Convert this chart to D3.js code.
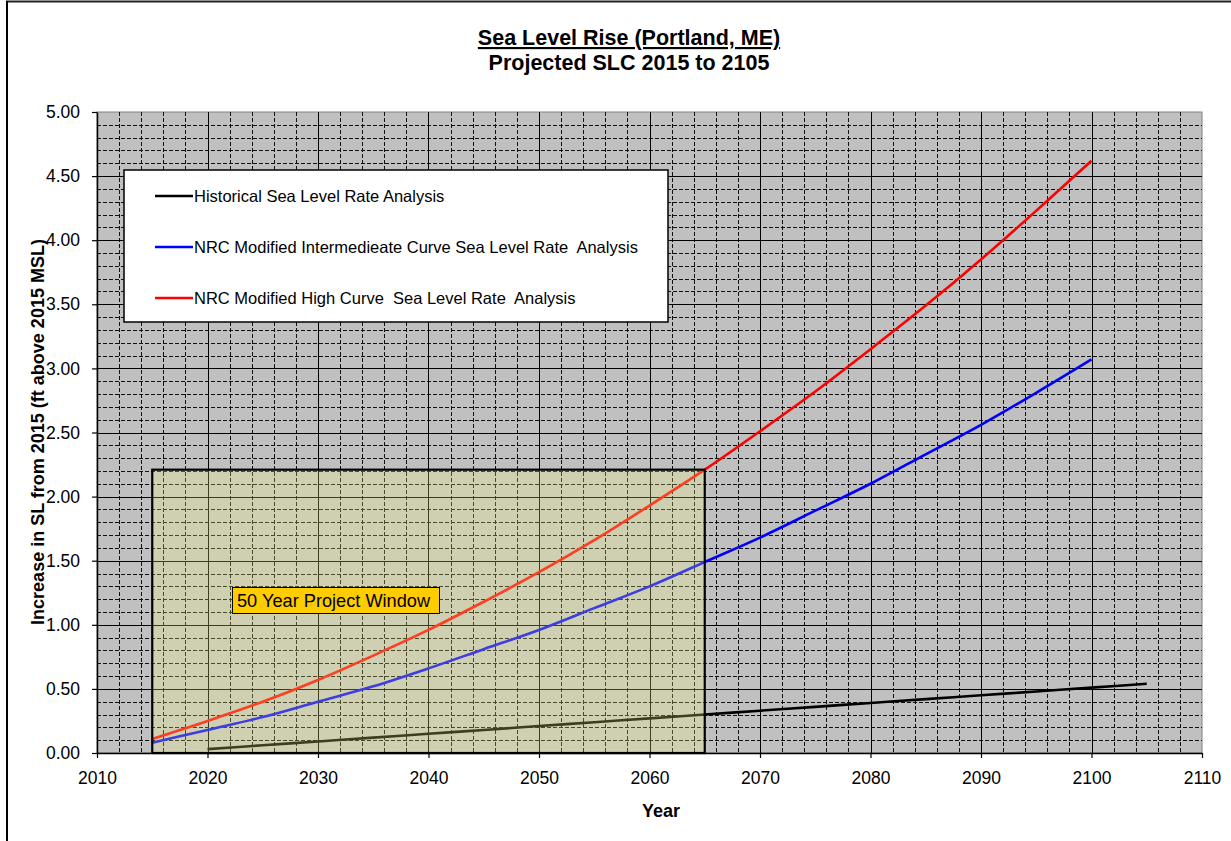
<!DOCTYPE html>
<html>
<head>
<meta charset="utf-8">
<script src="https://cdn.jsdelivr.net/npm/d3@7"></script>
<style>
  html, body { margin: 0; padding: 0; background: #fff; }
  svg { display: block; font-family: "Liberation Sans", Arial, sans-serif; }
</style>
</head>
<body>
<svg id="chart" width="1231" height="841"></svg>
<script>
// Projected sea level change, Portland ME (ft above 2015 MSL)
const histYears = [2020, 2025, 2030, 2035, 2040, 2045, 2050, 2055, 2060, 2065, 2070, 2075, 2080, 2085, 2090, 2095, 2100, 2105];
const histValues = [0.03, 0.06, 0.09, 0.12, 0.15, 0.18, 0.21, 0.24, 0.27, 0.30, 0.33, 0.36, 0.39, 0.42, 0.45, 0.48, 0.51, 0.54];

const nrcYears = [2015, 2020, 2025, 2030, 2035, 2040, 2045, 2050, 2055, 2060, 2065, 2070, 2075, 2080, 2085, 2090, 2095, 2100];
const intermediateValues = [0.08, 0.18, 0.28, 0.40, 0.52, 0.66, 0.81, 0.96, 1.13, 1.30, 1.49, 1.68, 1.89, 2.10, 2.33, 2.56, 2.81, 3.07];
const highValues = [0.11, 0.25, 0.40, 0.57, 0.76, 0.96, 1.18, 1.41, 1.66, 1.93, 2.21, 2.51, 2.82, 3.15, 3.49, 3.85, 4.23, 4.62];

const xTicks = [2010, 2020, 2030, 2040, 2050, 2060, 2070, 2080, 2090, 2100, 2110];
const yTicks = [0, 0.5, 1, 1.5, 2, 2.5, 3, 3.5, 4, 4.5, 5];

const seriesNames = [
  "Historical Sea Level Rate Analysis",
  "NRC Modified Intermedieate Curve Sea Level Rate  Analysis",
  "NRC Modified High Curve  Sea Level Rate  Analysis"
];
const seriesColors = ["#000000", "#0000ff", "#ff0000"];

// project window: 2015 to 2065, up to the high curve's 2065 value
const windowStart = 2015, windowEnd = 2065;
const windowTop = highValues[nrcYears.indexOf(windowEnd)];
const windowLabel = "50 Year Project Window";

const svg = d3.select("#chart");
const plot = { left: 97, right: 1202, top: 112, bottom: 753 };

const x = d3.scaleLinear().domain([2010, 2110]).range([plot.left, plot.right]);
const y = d3.scaleLinear().domain([0, 5]).range([plot.bottom, plot.top]);

// outer frame
svg.append("line").attr("x1", 6).attr("x2", 1231).attr("y1", 1.5).attr("y2", 1.5)
  .attr("stroke", "#222").attr("stroke-width", 2);
svg.append("line").attr("x1", 7).attr("x2", 7).attr("y1", 1).attr("y2", 841)
  .attr("stroke", "#000").attr("stroke-width", 2);

// plot background
svg.append("rect")
  .attr("x", plot.left).attr("y", plot.top)
  .attr("width", plot.right - plot.left).attr("height", plot.bottom - plot.top)
  .attr("fill", "#c0c0c0").attr("stroke", "#808080").attr("stroke-width", 1);

// minor grid (dashed)
const grid = svg.append("g");
const minorX = d3.range(2012, 2110, 2).filter(v => v % 10 !== 0);
const minorY = d3.range(1, 50).map(v => v / 10).filter(v => Math.round(v * 10) % 5 !== 0);
grid.selectAll("line.mx").data(minorX).join("line")
  .attr("x1", d => Math.round(x(d)) + 0.5).attr("x2", d => Math.round(x(d)) + 0.5)
  .attr("y1", plot.top).attr("y2", plot.bottom)
  .attr("stroke", "#111").attr("stroke-dasharray", "4,2");
grid.selectAll("line.my").data(minorY).join("line")
  .attr("x1", plot.left).attr("x2", plot.right)
  .attr("y1", d => Math.round(y(d)) + 0.5).attr("y2", d => Math.round(y(d)) + 0.5)
  .attr("stroke", "#111").attr("stroke-dasharray", "4,2");
// major grid (solid)
grid.selectAll("line.Mx").data(xTicks.slice(1, -1)).join("line")
  .attr("x1", d => Math.round(x(d)) + 0.5).attr("x2", d => Math.round(x(d)) + 0.5)
  .attr("y1", plot.top).attr("y2", plot.bottom)
  .attr("stroke", "#000");
grid.selectAll("line.My").data(yTicks.slice(1, -1)).join("line")
  .attr("x1", plot.left).attr("x2", plot.right)
  .attr("y1", d => Math.round(y(d)) + 0.5).attr("y2", d => Math.round(y(d)) + 0.5)
  .attr("stroke", "#000");

// series
const line = d3.line().x(d => x(d[0])).y(d => y(d[1])).curve(d3.curveMonotoneX);
const series = [
  d3.zip(histYears, histValues),
  d3.zip(nrcYears, intermediateValues),
  d3.zip(nrcYears, highValues)
];
svg.append("g").selectAll("path").data(series).join("path")
  .attr("d", line)
  .attr("fill", "none")
  .attr("stroke", (d, i) => seriesColors[i])
  .attr("stroke-width", 2.6)
  .attr("stroke-linejoin", "round");

// project window overlay
svg.append("rect")
  .attr("x", x(windowStart)).attr("y", y(windowTop))
  .attr("width", x(windowEnd) - x(windowStart)).attr("height", y(0) - y(windowTop))
  .attr("fill", "rgb(255,255,132)").attr("fill-opacity", 0.24)
  .attr("stroke", "#000").attr("stroke-width", 2.2);

// window label
const lbl = svg.append("g").attr("transform", "translate(232,587)");
lbl.append("rect").attr("x", 0.5).attr("y", 0.5).attr("width", 207).attr("height", 26)
  .attr("fill", "#ffcc00").attr("stroke", "#000").attr("stroke-width", 1);
lbl.append("text").attr("x", 5).attr("y", 20)
  .attr("font-size", 18.2).attr("fill", "#000").text(windowLabel);

// legend
const legend = svg.append("g");
legend.append("rect").attr("x", 124).attr("y", 170).attr("width", 544).attr("height", 152)
  .attr("fill", "#fff").attr("stroke", "#000").attr("stroke-width", 1.5);
const legY = [196, 247, 298];
seriesNames.forEach((name, i) => {
  legend.append("line").attr("x1", 155).attr("x2", 193).attr("y1", legY[i]).attr("y2", legY[i])
    .attr("stroke", seriesColors[i]).attr("stroke-width", 2.6);
  legend.append("text").attr("x", 194).attr("y", legY[i] + 6)
    .attr("font-size", 16.5).attr("fill", "#000").attr("xml:space", "preserve")
    .style("white-space", "pre").text(name);
});

// axes
const xAxis = svg.append("g").attr("transform", `translate(0,${plot.bottom})`)
  .call(d3.axisBottom(x).tickValues(xTicks).tickFormat(d3.format("d")).tickSizeInner(5).tickSizeOuter(0).tickPadding(14));
const yAxis = svg.append("g").attr("transform", `translate(${plot.left},0)`)
  .call(d3.axisLeft(y).tickValues(yTicks).tickFormat(d3.format(".2f")).tickSizeInner(5).tickSizeOuter(0).tickPadding(12));
[xAxis, yAxis].forEach(a => {
  a.select(".domain").attr("stroke", "#000").attr("stroke-width", 1.5);
  a.selectAll(".tick line").attr("stroke", "#000").attr("stroke-width", 1.2);
  a.selectAll(".tick text").attr("font-size", 17.5).attr("fill", "#000")
    .attr("font-family", "'Liberation Sans', Arial, sans-serif");
});

// titles
svg.append("text").attr("x", 629).attr("y", 45).attr("text-anchor", "middle")
  .attr("font-size", 21.5).attr("font-weight", "bold").attr("text-decoration", "underline")
  .text("Sea Level Rise (Portland, ME)");
svg.append("text").attr("x", 629).attr("y", 70).attr("text-anchor", "middle")
  .attr("font-size", 21.5).attr("font-weight", "bold")
  .text("Projected SLC 2015 to 2105");
svg.append("text").attr("x", 661).attr("y", 817).attr("text-anchor", "middle")
  .attr("font-size", 18).attr("font-weight", "bold").text("Year");
svg.append("text").attr("transform", "translate(44,432) rotate(-90)").attr("text-anchor", "middle")
  .attr("font-size", 18).attr("font-weight", "bold")
  .text("Increase in SL from 2015  (ft  above 2015  MSL)");
</script>
</body>
</html>
